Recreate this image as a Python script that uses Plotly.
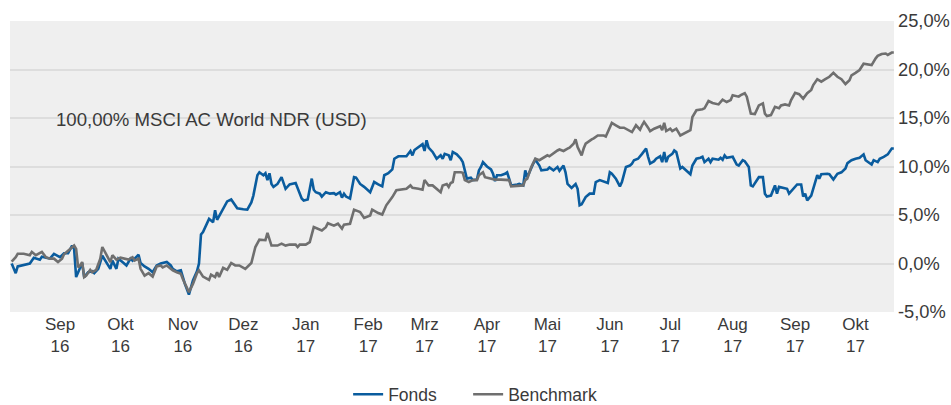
import pandas as pd
import plotly.graph_objects as go

# Performance since 2016-08-08, in percent; days are calendar days after the start date
START = pd.Timestamp("2016-08-08")

fonds_days = [
    0, 2, 3, 9, 11, 14, 15, 19, 21, 24, 26, 28, 30, 31, 32, 34, 35, 36, 38, 40,
    41, 43, 45, 49, 50, 52, 53, 55, 57, 59, 60, 63, 64, 66, 68, 70, 72, 74, 77, 79,
    80, 82, 84, 86, 88, 90, 92, 93, 94, 95, 97, 98, 100, 101, 102, 104, 107, 109, 112, 115,
    117, 119, 120, 122, 123, 125, 126, 127, 128, 129, 130, 132, 134, 136, 138, 141, 144, 145, 147, 149,
    150, 151, 153, 154, 156, 158, 160, 161, 163, 164, 165, 166, 168, 170, 171, 173, 175, 178, 180, 182,
    184, 185, 187, 189, 190, 192, 196, 198, 199, 200, 202, 204, 205, 206, 207, 209, 211, 213, 214, 215,
    217, 218, 219, 221, 223, 224, 225, 226, 228, 229, 231, 232, 233, 234, 236, 238, 239, 240, 241, 243,
    245, 246, 247, 248, 251, 252, 254, 255, 256, 257, 259, 260, 261, 262, 263, 266, 267, 269, 271, 272,
    274, 275, 276, 278, 280, 281, 282, 283, 285, 287, 289, 290, 292, 295, 296, 297, 298, 300, 302, 303,
    305, 307, 308, 309, 311, 313, 315, 316, 317, 319, 320, 322, 323, 324, 325, 326, 328, 329, 330, 331,
    332, 333, 335, 337, 338, 340, 342, 343, 344, 346, 347, 348, 351, 352, 353, 354, 355, 358, 360, 361,
    363, 364, 366, 367, 368, 370, 371, 373, 374, 375, 377, 379, 380, 381, 384, 385, 386, 388, 390, 392,
    393, 394, 395, 397, 398, 400, 401, 402, 405, 406, 408, 410, 412, 414, 415, 417, 419, 421, 423, 424,
    427, 428, 430, 431, 433, 435, 437, 438,
]
fonds_values = [
    0.0, -1.0, -0.3, 0.0, 0.6, 0.4, 0.7, 0.5, 1.0, 0.65, 1.05, 1.05, 1.85, 1.5, -1.4, -0.4, 0.05, -1.4, -0.9, -0.8,
    -1.0, -0.55, 0.8, -0.55, 0.3, -0.55, 0.5, 0.15, -0.2, 0.5, 0.3, 0.9, 0.05, -0.3, -0.55, -0.9, -0.2, 0.0, 0.15, -0.2,
    -0.55, -0.8, -0.7, -2.1, -3.2, -1.75, -0.8, 0.0, 3.0, 3.25, 4.1, 4.6, 4.25, 5.5, 4.5, 5.3, 6.4, 6.6, 5.7, 5.6,
    5.55, 6.3, 7.0, 9.1, 9.4, 9.1, 9.3, 8.6, 9.3, 8.2, 7.9, 8.2, 8.9, 7.7, 8.15, 8.3, 6.7, 6.5, 6.6, 8.75,
    7.6, 7.35, 7.2, 6.9, 7.35, 7.2, 7.25, 7.1, 7.35, 6.8, 7.2, 6.9, 6.7, 8.9, 8.85, 8.2, 7.9, 7.35, 8.4, 8.15,
    7.95, 9.1, 9.3, 9.7, 10.8, 11.05, 11.05, 11.6, 11.15, 11.7, 12.0, 12.3, 11.6, 12.7, 11.95, 11.5, 10.8, 11.15, 10.8, 11.3,
    11.15, 10.65, 11.5, 11.25, 10.8, 10.45, 9.6, 8.75, 8.85, 8.6, 8.65, 9.6, 9.95, 10.45, 10.0, 9.7, 9.25, 8.5, 9.1, 9.1,
    9.25, 9.4, 8.75, 8.05, 8.15, 8.2, 8.05, 9.6, 8.9, 9.4, 10.3, 10.7, 10.45, 10.1, 9.6, 9.7, 9.9, 9.6, 9.95, 9.55,
    10.1, 9.4, 8.2, 7.8, 8.2, 7.7, 6.0, 6.1, 6.85, 7.2, 7.2, 8.4, 8.6, 8.4, 8.3, 9.4, 9.25, 8.75, 7.95, 8.4,
    9.95, 10.1, 10.3, 10.65, 10.8, 11.3, 11.85, 11.0, 10.3, 10.55, 10.8, 11.05, 10.45, 11.5, 10.45, 11.0, 11.3, 11.65, 11.5, 10.65,
    9.8, 9.95, 9.6, 9.2, 10.1, 10.8, 10.9, 11.0, 10.45, 10.8, 10.45, 10.8, 10.7, 10.9, 10.7, 11.15, 10.9, 11.0, 10.2, 10.1,
    10.65, 10.55, 9.95, 8.05, 7.95, 8.6, 8.9, 8.9, 7.2, 6.9, 7.0, 8.05, 7.2, 7.9, 7.8, 7.7, 7.2, 7.7, 8.15, 8.15,
    6.9, 7.2, 6.5, 7.0, 7.7, 9.1, 8.75, 9.2, 9.25, 9.2, 8.65, 9.25, 9.4, 9.8, 10.35, 10.65, 10.8, 10.9, 11.25, 10.65,
    10.2, 10.65, 10.45, 10.8, 11.0, 11.25, 11.85, 11.85,
]

benchmark_days = [
    0, 2, 3, 6, 9, 10, 12, 13, 15, 17, 19, 21, 23, 25, 26, 29, 31, 32, 33, 34,
    35, 36, 37, 39, 40, 42, 44, 45, 47, 49, 50, 52, 54, 56, 58, 60, 61, 63, 64, 66,
    68, 70, 72, 74, 75, 77, 79, 80, 82, 84, 85, 87, 88, 90, 92, 93, 95, 98, 99, 101,
    102, 103, 105, 107, 109, 111, 113, 116, 119, 121, 123, 126, 127, 129, 132, 134, 136, 138, 141, 142,
    143, 146, 148, 150, 152, 154, 156, 157, 160, 162, 164, 165, 168, 170, 173, 175, 178, 179, 182, 184,
    186, 188, 189, 191, 194, 196, 198, 199, 202, 204, 205, 207, 209, 211, 213, 214, 216, 217, 218, 219,
    220, 223, 224, 225, 227, 229, 231, 232, 234, 235, 238, 240, 243, 246, 247, 248, 252, 254, 255, 256,
    258, 260, 262, 264, 266, 267, 269, 271, 272, 274, 276, 277, 279, 280, 281, 283, 284, 285, 288, 289,
    291, 294, 295, 298, 300, 302, 304, 306, 308, 310, 312, 313, 314, 316, 317, 319, 322, 323, 324, 325,
    327, 328, 330, 332, 334, 337, 338, 340, 343, 344, 346, 348, 351, 353, 355, 357, 358, 360, 361, 362,
    364, 365, 367, 369, 370, 371, 373, 374, 375, 377, 379, 381, 382, 384, 386, 387, 389, 391, 393, 395,
    397, 398, 400, 402, 404, 406, 408, 410, 412, 414, 416, 417, 419, 421, 423, 425, 427, 429, 430, 432,
    434, 435, 437, 438,
]
benchmark_values = [
    0.2, 0.65, 1.0, 1.0, 0.85, 1.2, 0.85, 0.95, 1.2, 0.65, 0.5, 0.5, 0.15, 0.5, 0.95, 1.5, 1.85, 1.5, -0.4, -0.2,
    0.15, -1.4, -1.25, -0.65, -0.9, -0.65, 0.5, 1.7, 0.85, 0.15, 0.85, 0.4, 0.6, 0.5, 0.4, 0.65, 0.3, 0.5, -0.55, -1.25,
    -1.0, -1.35, -0.3, -0.2, -0.4, -0.2, -0.55, -0.7, -0.9, -1.05, -1.6, -2.6, -2.95, -2.1, -1.0, -0.7, -1.35, -1.7, -1.15, -1.4,
    -0.9, -1.4, -0.45, -0.65, 0.05, -0.2, -0.2, -0.55, 0.05, 1.7, 2.45, 2.4, 3.15, 1.85, 1.85, 2.05, 1.85, 1.95, 1.95, 1.7,
    1.95, 1.95, 2.2, 3.75, 3.6, 3.4, 3.75, 4.15, 3.9, 4.1, 3.6, 4.0, 4.1, 5.55, 5.3, 4.7, 4.95, 5.55, 5.2, 5.05,
    6.0, 6.5, 6.85, 7.55, 7.6, 7.7, 8.05, 7.8, 7.7, 7.6, 8.6, 8.05, 8.05, 7.7, 7.35, 8.05, 8.2, 7.9, 8.3, 8.4,
    9.4, 9.4, 9.35, 8.6, 8.4, 8.6, 8.6, 9.1, 9.4, 8.9, 8.75, 8.65, 8.65, 8.6, 8.6, 7.95, 8.05, 8.05, 8.6, 8.75,
    9.95, 10.8, 10.65, 10.9, 11.15, 11.05, 11.4, 11.65, 11.75, 11.6, 11.85, 11.95, 12.35, 12.8, 12.0, 11.15, 11.85, 12.35, 12.8, 12.9,
    13.2, 13.2, 13.1, 14.5, 14.25, 14.0, 14.0, 13.8, 13.55, 14.25, 13.8, 14.25, 14.6, 14.0, 13.65, 13.9, 14.15, 13.75, 14.5, 13.65,
    13.9, 13.65, 13.9, 13.2, 13.45, 13.75, 15.1, 15.8, 15.9, 16.0, 16.75, 16.55, 16.4, 16.9, 16.65, 16.85, 17.35, 17.2, 17.2, 17.35,
    17.55, 17.2, 15.45, 15.4, 15.8, 16.3, 16.5, 15.45, 15.2, 15.3, 16.15, 16.0, 16.3, 16.4, 16.3, 16.85, 17.6, 17.45, 17.0, 17.55,
    17.9, 18.4, 19.0, 18.75, 19.0, 19.25, 19.65, 19.25, 19.0, 18.5, 18.9, 19.4, 19.65, 19.95, 20.6, 20.55, 20.45, 21.15, 21.4, 21.6,
    21.65, 21.5, 21.75, 21.75,
]

# Axis ticks: first day of each month, two-line German labels
month_ticks = pd.date_range("2016-09-01", "2017-10-01", freq="MS")
month_names = ["Jan", "Feb", "Mrz", "Apr", "Mai", "Jun", "Jul", "Aug", "Sep", "Okt", "Nov", "Dez"]
month_labels = [f"{month_names[d.month - 1]}<br>{d.year % 100}" for d in month_ticks]

y_ticks = [-5, 0, 5, 10, 15, 20, 25]
y_labels = [f"{v:.1f}".replace(".", ",") + "%" for v in y_ticks]

BLUE = "#0a5c9e"
GREY = "#6f6f6f"
TEXT = "#3a3a3a"
FONT = "Liberation Sans, Arial, sans-serif"

fonds_dates = START + pd.to_timedelta(fonds_days, unit="D")
bench_dates = START + pd.to_timedelta(benchmark_days, unit="D")

fig = go.Figure()
fig.add_trace(go.Scatter(x=fonds_dates, y=fonds_values, mode="lines", name="Fonds",
                         line=dict(color=BLUE, width=2.6), legendwidth=75))
fig.add_trace(go.Scatter(x=bench_dates, y=benchmark_values, mode="lines", name="Benchmark",
                         line=dict(color=GREY, width=2.6), legendwidth=100))

fig.add_annotation(text="100,00% MSCI AC World NDR (USD)", xref="paper", yref="paper",
                   x=0.05, y=0.66, xanchor="left", yanchor="middle", showarrow=False,
                   font=dict(family=FONT, size=18.6, color=TEXT))

fig.update_layout(
    width=951, height=405,
    margin=dict(l=10, r=57, t=21, b=93, autoexpand=False),
    paper_bgcolor="white", plot_bgcolor="#efefef",
    font=dict(family=FONT, size=17, color=TEXT),
    showlegend=True,
    legend=dict(orientation="h", x=0.3825, xanchor="left", y=-0.283, yanchor="middle",
                font=dict(family=FONT, size=17.5, color=TEXT), itemwidth=30,
                bgcolor="rgba(0,0,0,0)"),
    hovermode=False,
)
fig.update_xaxes(
    type="date",
    range=[START - pd.Timedelta(hours=20), START + pd.Timedelta(days=438.1)],
    tickvals=month_ticks, ticktext=month_labels,
    showgrid=False, zeroline=False, showline=False, ticks="",
    tickfont=dict(family=FONT, size=17, color=TEXT),
)
fig.update_yaxes(
    range=[-5, 25], side="right",
    tickvals=y_ticks, ticktext=y_labels,
    showgrid=True, gridcolor="#dddddd", gridwidth=2,
    zeroline=False, showline=False, ticks="", ticklabelstandoff=3,
    tickfont=dict(family=FONT, size=18.3, color=TEXT),
)

fig.write_html("out.html")
